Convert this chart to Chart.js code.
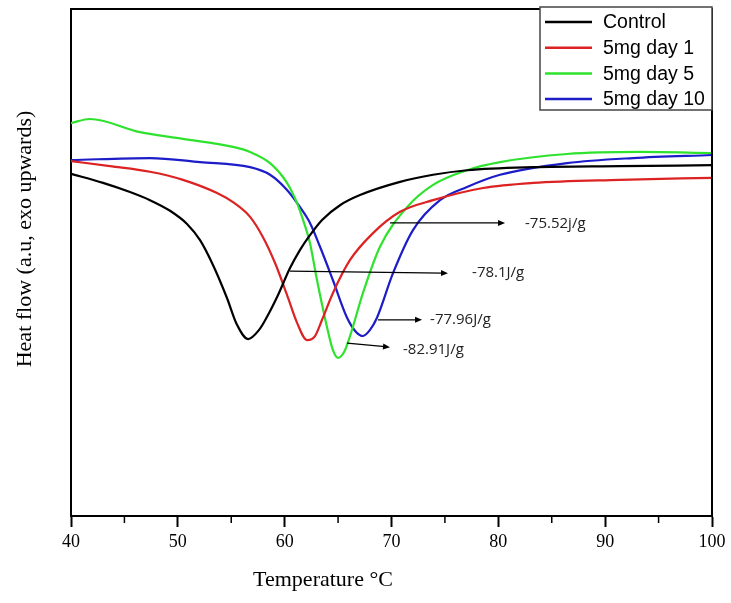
<!DOCTYPE html>
<html>
<head>
<meta charset="utf-8">
<title>DSC thermogram</title>
<script src="https://cdn.jsdelivr.net/npm/chart.js@4.4.1/dist/chart.umd.min.js"></script>
<style>
    html, body { margin: 0; padding: 0; background: #fff; }
    #wrap { width: 731px; height: 603px; }
</style>
</head>
<body>
<div id="wrap"><canvas id="dscChart"></canvas></div>
<script>
// Серії (температура, °C / тепловий потік, у.о.)
const seriesNames = ['Control', '5mg day 1', '5mg day 5', '5mg day 10'];
const seriesColors = ['#000000', '#dc2222', '#2ee22e', '#1c1cc8'];

const controlT  = [40.0, 43.0, 45.52, 47.39, 49.27, 50.86, 52.08, 53.29, 54.60, 55.54, 56.57, 57.60, 58.35, 59.38, 60.50, 61.44, 62.37, 63.50, 65.18, 67.05, 70.80, 73.89, 77.07, 83.25, 91.39, 100];
const controlHF = [6.75, 6.57, 6.39, 6.23, 6.02, 5.76, 5.44, 4.95, 4.30, 3.77, 3.49, 3.67, 3.93, 4.36, 4.89, 5.25, 5.54, 5.84, 6.13, 6.33, 6.59, 6.73, 6.82, 6.88, 6.90, 6.92];

const day1T  = [40.0, 43.65, 47.39, 50.48, 53.67, 55.16, 56.76, 57.97, 59.10, 60.22, 61.16, 62.09, 62.84, 63.50, 64.52, 66.12, 68.27, 70.80, 73.89, 78.57, 83.25, 91.39, 100];
const day1HF = [7.00, 6.90, 6.79, 6.63, 6.37, 6.19, 5.90, 5.50, 4.99, 4.36, 3.81, 3.47, 3.55, 3.87, 4.40, 5.05, 5.58, 6.00, 6.23, 6.47, 6.57, 6.63, 6.67];

const day5T  = [40.0, 41.78, 46.46, 50.48, 55.16, 56.76, 58.63, 60.22, 61.16, 61.72, 62.37, 63.03, 63.96, 64.52, 64.99, 65.55, 66.12, 67.33, 68.92, 71.45, 73.89, 77.07, 80.16, 86.43, 93.26, 100];
const day5HF = [7.75, 7.83, 7.57, 7.44, 7.28, 7.18, 6.96, 6.57, 6.17, 5.84, 5.38, 4.65, 3.73, 3.27, 3.12, 3.23, 3.55, 4.40, 5.31, 6.09, 6.53, 6.82, 6.98, 7.14, 7.18, 7.16];

const day10T  = [40.0, 47.39, 52.08, 56.76, 58.63, 60.22, 61.44, 62.37, 63.31, 64.52, 65.84, 66.68, 67.33, 67.99, 68.64, 70.14, 72.01, 74.54, 77.07, 80.16, 86.43, 92.61, 100];
const day10HF = [7.02, 7.06, 6.98, 6.88, 6.73, 6.43, 6.09, 5.78, 5.31, 4.65, 3.91, 3.63, 3.55, 3.67, 3.91, 4.79, 5.64, 6.23, 6.49, 6.73, 6.96, 7.06, 7.12];

// Ентальпії піків: текст, початок/кінець стрілки, позиція підпису (у даних)
const enthalpyLabels = ['-75.52j/g', '-78.1J/g', '-77.96J/g', '-82.91J/g'];
const arrowFrom  = [[69.86, 5.78], [60.50, 4.83], [68.74, 3.87], [65.84, 3.41]];
const arrowTo    = [[80.63, 5.78], [75.29, 4.79], [72.86, 3.87], [69.86, 3.33]];
const labelAt    = [[82.50, 5.76], [77.54, 4.79], [73.61, 3.87], [71.08, 3.27]];

const xTicksMajor = [40, 50, 60, 70, 80, 90, 100];

function toPoints(xs, ys) {
    return xs.map((x, i) => ({ x: x, y: ys[i] }));
}

const allT  = [controlT, day1T, day5T, day10T];
const allHF = [controlHF, day1HF, day5HF, day10HF];

// Рамка, мінорні поділки, підписи осей
const framePlugin = {
    id: 'frame',
    afterDraw(chart) {
        const { ctx, chartArea: a, scales } = chart;
        ctx.save();
        ctx.strokeStyle = '#000';
        ctx.lineWidth = 2;
        ctx.beginPath();
        ctx.moveTo(a.left, a.top);
        ctx.lineTo(a.right, a.top);
        ctx.lineTo(a.right, a.bottom);
        ctx.stroke();

        // мінорні поділки
        ctx.lineWidth = 1.5;
        scales.x.ticks.forEach(t => {
            if (t.value % 10 !== 0) {
                const px = scales.x.getPixelForValue(t.value);
                ctx.beginPath();
                ctx.moveTo(px, a.bottom);
                ctx.lineTo(px, a.bottom + 7);
                ctx.stroke();
            }
        });

        // назви осей
        ctx.fillStyle = '#000';
        ctx.font = '22px "Liberation Serif", "Times New Roman", serif';
        ctx.textAlign = 'center';
        ctx.textBaseline = 'middle';
        ctx.fillText('Temperature °C', a.left + 252, 580);

        ctx.translate(25, 239);
        ctx.rotate(-Math.PI / 2);
        ctx.fillText('Heat flow (a.u, exo upwards)', 0, 0);
        ctx.restore();
    }
};

// Стрілки з ентальпіями
const enthalpyPlugin = {
    id: 'enthalpy',
    afterDatasetsDraw(chart) {
        const { ctx, scales } = chart;
        ctx.save();
        ctx.strokeStyle = '#000';
        ctx.fillStyle = '#000';
        ctx.lineWidth = 1.3;
        enthalpyLabels.forEach((label, i) => {
            const x1 = scales.x.getPixelForValue(arrowFrom[i][0]);
            const y1 = scales.y.getPixelForValue(arrowFrom[i][1]);
            const x2 = scales.x.getPixelForValue(arrowTo[i][0]);
            const y2 = scales.y.getPixelForValue(arrowTo[i][1]);
            const ang = Math.atan2(y2 - y1, x2 - x1);
            ctx.beginPath();
            ctx.moveTo(x1, y1);
            ctx.lineTo(x2 - 5 * Math.cos(ang), y2 - 5 * Math.sin(ang));
            ctx.stroke();
            ctx.beginPath();
            ctx.moveTo(x2, y2);
            ctx.lineTo(x2 - 7 * Math.cos(ang) + 3 * Math.sin(ang), y2 - 7 * Math.sin(ang) - 3 * Math.cos(ang));
            ctx.lineTo(x2 - 7 * Math.cos(ang) - 3 * Math.sin(ang), y2 - 7 * Math.sin(ang) + 3 * Math.cos(ang));
            ctx.closePath();
            ctx.fill();

            ctx.font = '15px "Open Sans", sans-serif';
            ctx.textAlign = 'left';
            ctx.textBaseline = 'middle';
            ctx.fillStyle = '#222';
            ctx.fillText(label, scales.x.getPixelForValue(labelAt[i][0]), scales.y.getPixelForValue(labelAt[i][1]));
            ctx.fillStyle = '#000';
        });
        ctx.restore();
    }
};

// Легенда в рамці, праворуч угорі
const boxLegendPlugin = {
    id: 'boxLegend',
    afterDraw(chart) {
        const { ctx, chartArea: a } = chart;
        const left = a.right - 172;
        const top = a.top - 2;
        ctx.save();
        ctx.fillStyle = '#fff';
        ctx.fillRect(left, top, 172, 103);
        ctx.strokeStyle = '#444';
        ctx.lineWidth = 1.5;
        ctx.strokeRect(left, top, 172, 103);
        ctx.font = '19.5px "Liberation Sans", Arial, sans-serif';
        ctx.textAlign = 'left';
        ctx.textBaseline = 'middle';
        chart.data.datasets.forEach((ds, i) => {
            const y = top + 15 + i * 25.7;
            ctx.strokeStyle = ds.borderColor;
            ctx.lineWidth = 2.5;
            ctx.beginPath();
            ctx.moveTo(left + 5, y);
            ctx.lineTo(left + 52, y);
            ctx.stroke();
            ctx.fillStyle = '#000';
            ctx.fillText(ds.label, left + 63, y + 1);
        });
        ctx.restore();
    }
};

new Chart(document.getElementById('dscChart'), {
    type: 'line',
    data: {
        datasets: seriesNames.map((name, i) => ({
            label: name,
            data: toPoints(allT[i], allHF[i]),
            borderColor: seriesColors[i],
            borderWidth: 2.2,
            pointRadius: 0,
            cubicInterpolationMode: 'monotone',
            fill: false
        }))
    },
    options: {
        responsive: true,
        maintainAspectRatio: false,
        animation: false,
        devicePixelRatio: 1,
        layout: {
            padding: { left: 71, right: 19, top: 9, bottom: 0 }
        },
        plugins: {
            legend: { display: false },
            tooltip: { enabled: false }
        },
        scales: {
            x: {
                type: 'linear',
                min: 40,
                max: 100,
                afterFit: s => { s.height = 87; },
                ticks: {
                    stepSize: 5,
                    autoSkip: false,
                    maxRotation: 0,
                    padding: 4,
                    color: '#000',
                    font: { family: '"Liberation Serif", "Times New Roman", serif', size: 18 },
                    callback: v => (xTicksMajor.includes(v) ? v : '')
                },
                grid: {
                    drawOnChartArea: false,
                    drawTicks: true,
                    tickLength: 11,
                    tickWidth: 2,
                    tickColor: c => (c.tick && c.tick.value % 10 === 0 ? '#000' : 'rgba(0,0,0,0)')
                },
                border: { display: true, color: '#000', width: 2 }
            },
            y: {
                min: 0,
                max: 10,
                afterFit: s => { s.width = 0; },
                ticks: { display: false },
                grid: { display: false, drawTicks: false },
                border: { display: true, color: '#000', width: 2 }
            }
        }
    },
    plugins: [framePlugin, enthalpyPlugin, boxLegendPlugin]
});
</script>
</body>
</html>
